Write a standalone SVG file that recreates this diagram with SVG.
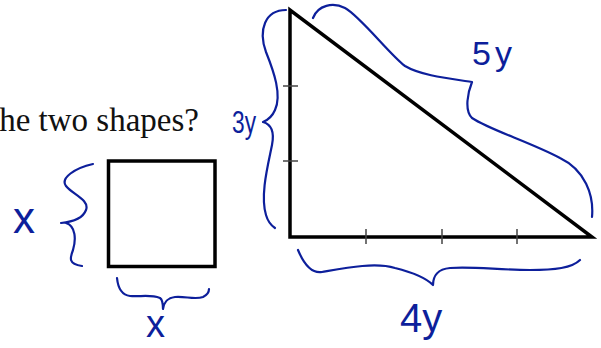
<svg xmlns="http://www.w3.org/2000/svg" width="601" height="348" viewBox="0 0 601 348">
<style>
.shape{fill:none;stroke:#000;stroke-width:3.5;stroke-linejoin:miter}
.tick{stroke:#444;stroke-width:1.5}
.brace{fill:none;stroke:#0d1f9b;stroke-width:2.2;stroke-linecap:round;stroke-linejoin:round}
.hand{fill:#0d1f9b;font-family:"Liberation Sans","DejaVu Sans",sans-serif}
.q{fill:#111;font-family:"Liberation Serif","DejaVu Serif",serif;font-size:33px}
</style>
<rect width="601" height="348" fill="#fff"/>
<text class="q" x="199" y="131" text-anchor="end">he two shapes?</text>
<g id="square">
<rect class="shape" x="108.5" y="161" width="106.5" height="105.5"/>
</g>
<g id="triangle">
<polygon class="shape" points="290,10 290,237 592,237"/>
<line class="tick" x1="283" y1="86" x2="298" y2="86"/>
<line class="tick" x1="283" y1="161" x2="298" y2="161"/>
<line class="tick" x1="366" y1="229" x2="366" y2="244"/>
<line class="tick" x1="442" y1="229" x2="442" y2="244"/>
<line class="tick" x1="517" y1="229" x2="517" y2="244"/>
</g>
<g id="annotations">
<path class="brace" d="M93,164 C75,168 60,178 66,186 C72,194 90,200 86,210 C83,218 72,222 61,223 M66,223 C76,226 76,240 73,250 C70,258 68,264 82,266"/>
<path class="brace" d="M117,278 C118,288 122,295 130,296 C140,297 150,294 160,298 C163,300 163,305 163,309 C164,302 167,298 175,297 C185,296 195,300 203,297 C207,295 209,292 209,289"/>
<path class="brace" d="M286,10 C265,10 258,30 266,52 C274,72 282,95 275,110 C272,117 268,120 263,122 C270,124 275,130 272,145 C268,165 260,195 266,215 C268,222 272,226 275,228"/>
<path class="brace" d="M313,18 C318,5 333,2 345,8 C360,16 390,55 405,66 C420,75 445,78 472,82 C468,92 464,110 472,118 C490,130 530,142 560,158 C585,170 594,195 592,217"/>
<path class="brace" d="M298,250 C303,262 310,274 322,272 C345,268 375,262 395,268 C415,273 428,280 433,285 C433,276 438,269 450,268 C470,266 500,270 530,270 C555,270 572,268 580,260"/>
<text class="hand" x="13" y="233" font-size="44">x</text>
<text class="hand" x="146" y="337" font-size="38">x</text>
<text class="hand" x="232" y="133" font-size="32" textLength="24" lengthAdjust="spacingAndGlyphs">3y</text>
<text class="hand" x="472" y="65" font-size="34" letter-spacing="4">5y</text>
<text class="hand" x="400" y="332" font-size="40">4y</text>
</g>
</svg>
